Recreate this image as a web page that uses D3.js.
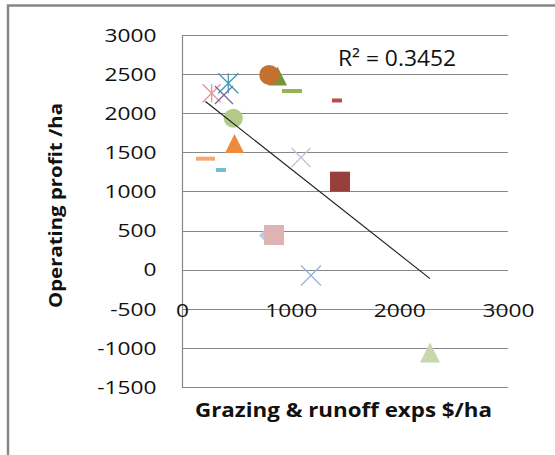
<!DOCTYPE html>
<html>
<head>
<meta charset="utf-8">
<script src="https://cdn.jsdelivr.net/npm/d3@7/dist/d3.min.js"></script>
<style>
  html, body { margin: 0; padding: 0; background: #fff; }
  svg { display: block; }
</style>
</head>
<body>
<svg id="chart" width="555" height="455"></svg>
<script>
// Grazing & runoff expenses ($/ha) against operating profit ($/ha), one point per farm
const expenses = [803, 879, 1012, 1426, 426, 386, 273, 472, 483, 216, 359, 1095, 1454, 847, 759, 1187, 2282];
const profit   = [2490, 2476, 2284, 2163, 2383, 2233, 2255, 1935, 1613, 1419, 1274, 1434, 1125, 443, 437, -75, -1060];

const xTicks = [0, 1000, 2000, 3000];
const yTicks = [-1500, -1000, -500, 0, 500, 1000, 1500, 2000, 2500, 3000];
const rSquaredLabel = "R\u00B2 = 0.3452";
const xTitle = "Grazing & runoff exps $/ha";
const yTitle = "Operating profit /ha";

// Marker look for each point, in the same order as the data
const markerShapes = ["circle", "triangle", "longdash", "shortdash", "star", "x", "star", "circle",
                      "triangle", "longdash", "shortdash", "x", "square", "square", "diamond", "x", "triangle"];
const markerColors = ["#C4712F", "#77933C", "#92B452", "#BE4B48", "#3E9BB5", "#8064A2", "#DE9A98", "#B2CB89",
                      "#EE8A3C", "#F7A771", "#78BCD3", "#C8BEDA", "#963F3C", "#DDB3B3", "#B9CDE5", "#9AB2D8", "#C8D8AC"];
const markerSizes  = [20, 19, 20, 10, 20, 18, 18, 19, 19, 19, 10, 19, 20, 20, 11, 20, 20];

const svg = d3.select("#chart");
const FONT = "'Open Sans', 'Noto Sans', sans-serif";
const plain = d => String(d);   // no thousands separators, ASCII hyphen for negatives

// Chart-area frame
svg.append("path")
  .attr("d", "M8,460 L8,5.5 L560,5.5")
  .attr("fill", "none").attr("stroke", "#878787").attr("stroke-width", 2.5);

const x = d3.scaleLinear().domain([0, 3000]).range([182, 508]);
const y = d3.scaleLinear().domain([-1500, 3000]).range([387, 35]);

// Horizontal gridlines
svg.append("g").selectAll("line").data(yTicks).join("line")
  .attr("x1", x(0)).attr("x2", x(3000))
  .attr("y1", d => Math.round(y(d)) + 0.5).attr("y2", d => Math.round(y(d)) + 0.5)
  .attr("stroke", "#878787").attr("stroke-width", 1.2);

// Vertical axis line
svg.append("line")
  .attr("x1", x(0) + 0.5).attr("x2", x(0) + 0.5)
  .attr("y1", y(3000)).attr("y2", y(-1500) + 0.5)
  .attr("stroke", "#878787").attr("stroke-width", 1.2);

// Y tick labels (wide numerals)
const yAxis = d3.axisLeft(y).tickValues(yTicks).tickFormat(plain).tickSize(0).tickPadding(25.5);
const gy = svg.append("g").attr("transform", `translate(${x(0)},0)`).call(yAxis);
gy.select(".domain").remove();
gy.selectAll(".tick text")
  .attr("font-family", FONT).attr("font-size", 17.5).attr("fill", "#111")
  .attr("x", 0).attr("dy", "0.36em")
  .attr("transform", "translate(-25.5,0) scale(1.3,1)");

// X tick labels sit on the -500 gridline
const xAxis = d3.axisBottom(x).tickValues(xTicks).tickFormat(plain).tickSize(0).tickPadding(0);
const gx = svg.append("g").attr("transform", `translate(0,${y(-500) + 2})`).call(xAxis);
gx.select(".domain").remove();
gx.selectAll(".tick text")
  .attr("font-family", FONT).attr("font-size", 17.5).attr("fill", "#111")
  .attr("y", 0).attr("dy", "0.36em")
  .attr("transform", "scale(1.3,1)");

// Marker paths, drawn around (0,0)
function markerPath(shape, s) {
  const h = s / 2;
  switch (shape) {
    case "circle": return `M${-h},0 A${h},${h} 0 1,0 ${h},0 A${h},${h} 0 1,0 ${-h},0 Z`;
    case "square": return `M${-h},${-h} H${h} V${h} H${-h} Z`;
    case "triangle": return `M0,${-h} L${h},${h} L${-h},${h} Z`;
    case "diamond": return `M0,${-h} L${h},0 L0,${h} L${-h},0 Z`;
    case "longdash":
    case "shortdash": return `M${-h},-2 H${h} V2 H${-h} Z`;
    case "x": return `M${-h},${-h} L${h},${h} M${h},${-h} L${-h},${h}`;
    case "star": return `M${-h},${-h} L${h},${h} M${h},${-h} L${-h},${h} M0,${-h} L0,${h}`;
  }
}
const lineShapes = new Set(["x", "star"]);

const points = expenses.map((e, i) => ({
  x: e, y: profit[i], shape: markerShapes[i], color: markerColors[i], size: markerSizes[i]
}));

// Least-squares trendline across the data range
const mx = d3.mean(points, d => d.x), my = d3.mean(points, d => d.y);
const sxy = d3.sum(points, d => (d.x - mx) * (d.y - my));
const sxx = d3.sum(points, d => (d.x - mx) ** 2);
const slope = sxy / sxx, intercept = my - slope * mx;
const [xmin, xmax] = d3.extent(points, d => d.x);

// Draw order: earlier series end up on top
const gm = svg.append("g");
d3.range(points.length - 1, -1, -1).forEach(i => {
  const p = points[i];
  const path = gm.append("path")
    .attr("transform", `translate(${x(p.x)},${y(p.y)})`)
    .attr("d", markerPath(p.shape, p.size));
  if (lineShapes.has(p.shape)) {
    path.attr("fill", "none").attr("stroke", p.color).attr("stroke-width", 1.3);
  } else {
    path.attr("fill", p.color);
  }
});

svg.append("line")
  .attr("x1", x(xmin)).attr("y1", y(intercept + slope * xmin))
  .attr("x2", x(xmax)).attr("y2", y(intercept + slope * xmax))
  .attr("stroke", "#1a1a1a").attr("stroke-width", 1.1);

// Trendline fit label
svg.append("text")
  .attr("font-family", FONT).attr("font-size", 21.5).attr("fill", "#111")
  .attr("text-anchor", "middle")
  .attr("transform", "translate(397,65.5) scale(1.06,1)")
  .text(rSquaredLabel);

// Axis titles
svg.append("text")
  .attr("font-family", FONT).attr("font-size", 19.5).attr("font-weight", "bold").attr("fill", "#111")
  .attr("text-anchor", "middle")
  .attr("x", 343.5).attr("y", 417)
  .attr("textLength", 297).attr("lengthAdjust", "spacingAndGlyphs")
  .text(xTitle);

svg.append("text")
  .attr("font-family", FONT).attr("font-size", 17).attr("font-weight", "bold").attr("fill", "#111")
  .attr("text-anchor", "middle")
  .attr("transform", "translate(61.5,205.5) rotate(-90)")
  .attr("textLength", 205).attr("lengthAdjust", "spacingAndGlyphs")
  .text(yTitle);
</script>
</body>
</html>
